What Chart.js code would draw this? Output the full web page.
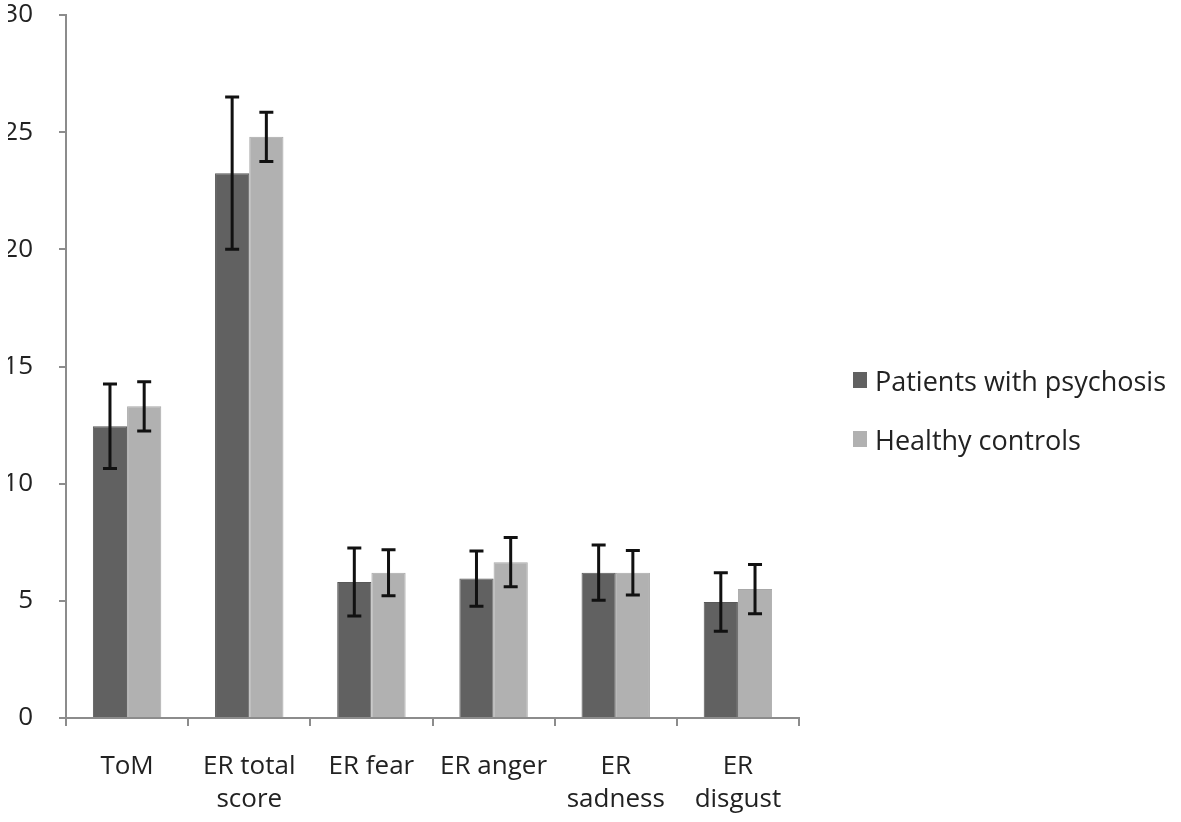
<!DOCTYPE html>
<html>
<head>
<meta charset="utf-8">
<script src="https://cdn.jsdelivr.net/npm/chart.js@4/dist/chart.umd.min.js"></script>
<style>
    body { margin: 0; background: #fff; }
    #wrap { position: relative; width: 1181px; height: 822px; }
    #legend { position: absolute; left: 853px; top: 363px; font-family: 'Open Sans', sans-serif; font-size: 27px; line-height: 36px; color: #222; }
    .item { height: 59px; display: flex; align-items: flex-start; }
    .box { width: 14px; height: 16px; margin-top: 9px; margin-right: 8px; }
</style>
</head>
<body>
<div id="wrap">
    <canvas id="myChart" width="1181" height="822"></canvas>
    <div id="legend"></div>
</div>
<script>
const categories = [['ToM'], ['ER total', 'score'], ['ER fear'], ['ER anger'], ['ER', 'sadness'], ['ER', 'disgust']];
const seriesNames = ['Patients with psychosis', 'Healthy controls'];
const patients = [12.45, 23.25, 5.8, 5.95, 6.2, 4.95];
const patientsErr = [1.8, 3.25, 1.45, 1.18, 1.18, 1.25];
const controls = [13.3, 24.8, 6.2, 6.65, 6.2, 5.5];
const controlsErr = [1.05, 1.05, 0.98, 1.05, 0.95, 1.05];
const yTicks = [0, 5, 10, 15, 20, 25, 30];

const colors = ['#616161', '#b1b1b1'];
const errors = [patientsErr, controlsErr];

// draws the error bars from the bar positions
const errorBars = {
    id: 'errorBars',
    afterDatasetsDraw(chart) {
        let ctx = chart.ctx;
        let yScale = chart.scales.y;
        ctx.save();
        ctx.strokeStyle = '#111';
        ctx.lineWidth = 3;
        chart.data.datasets.forEach((ds, i) => {
            let meta = chart.getDatasetMeta(i);
            meta.data.forEach((bar, j) => {
                let v = ds.data[j];
                let e = errors[i][j];
                let top = yScale.getPixelForValue(v + e);
                let bottom = yScale.getPixelForValue(v - e);
                ctx.beginPath();
                ctx.moveTo(bar.x, top);
                ctx.lineTo(bar.x, bottom);
                ctx.moveTo(bar.x - 7, top);
                ctx.lineTo(bar.x + 7, top);
                ctx.moveTo(bar.x - 7, bottom);
                ctx.lineTo(bar.x + 7, bottom);
                ctx.stroke();
            });
        });
        ctx.restore();
    }
};

let ctx = document.getElementById('myChart').getContext('2d');
new Chart(ctx, {
    type: 'bar',
    data: {
        labels: categories,
        datasets: [
            { label: seriesNames[0], data: patients, backgroundColor: colors[0], borderColor: '#585858', borderWidth: 1 },
            { label: seriesNames[1], data: controls, backgroundColor: colors[1], borderColor: '#a8a8a8', borderWidth: 1 }
        ]
    },
    options: {
        responsive: false,
        animation: false,
        categoryPercentage: 0.56,
        barPercentage: 1.0,
        layout: { padding: { left: 8, right: 382, top: 15, bottom: 4 } },
        plugins: { legend: { display: false }, tooltip: { enabled: false } },
        scales: {
            x: {
                afterFit: (axis) => { axis.height = 100; axis.paddingLeft = 0; axis.paddingRight = 0; },
                grid: { offset: true, drawOnChartArea: false, color: '#8c8c8c', lineWidth: 2, tickLength: 8 },
                border: { color: '#8c8c8c', width: 2 },
                ticks: { color: '#222', font: { family: 'Open Sans', size: 26, lineHeight: 1.27 }, padding: 24, maxRotation: 0 }
            },
            y: {
                min: 0,
                max: 30,
                afterBuildTicks: (axis) => { axis.ticks = yTicks.map(v => ({ value: v })); },
                afterFit: (axis) => { axis.width = 58; axis.paddingTop = 0; axis.paddingBottom = 0; },
                grid: { drawOnChartArea: false, color: '#8c8c8c', lineWidth: 2, tickLength: 7 },
                border: { color: '#8c8c8c', width: 2 },
                ticks: { color: '#222', font: { family: 'Open Sans', size: 26 }, padding: 26 }
            }
        }
    },
    plugins: [errorBars]
});

let legend = document.getElementById('legend');
seriesNames.forEach((name, i) => {
    let item = document.createElement('div');
    item.className = 'item';
    item.innerHTML = '<span class="box" style="background:' + colors[i] + '"></span><span>' + name + '</span>';
    legend.appendChild(item);
});
</script>
</body>
</html>
